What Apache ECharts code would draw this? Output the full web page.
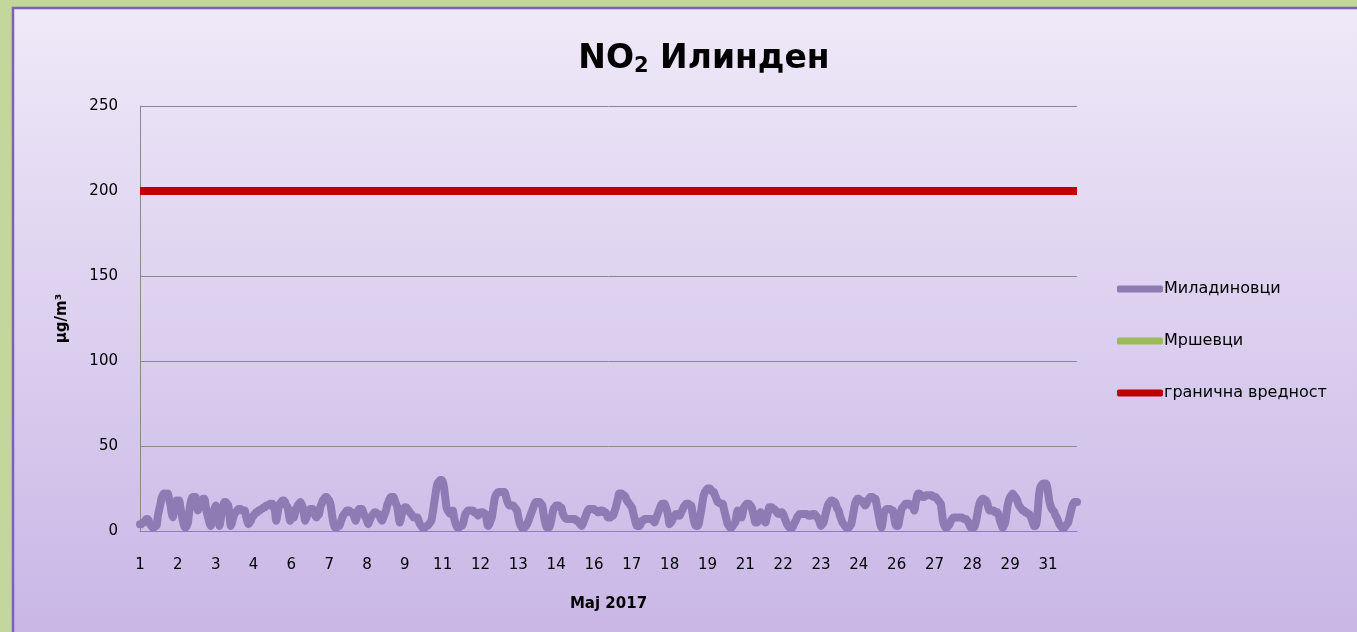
<!DOCTYPE html>
<html><head><meta charset="utf-8">
<script src="https://cdn.jsdelivr.net/npm/echarts@6/dist/echarts.min.js"></script>
<style>html,body{margin:0;padding:0;background:#c3d69b;overflow:hidden}#c{width:1357px;height:632px}</style>
</head><body><div id="c"></div>
<script>
// Days of May 2017 (hourly data, 24 values per day)
const days = [1,2,3,4,5,6,7,8,9,10,11,12,13,14,15,16,17,18,19,20,21,22,23,24,25,26,27,28,29,30,31];
const hoursPerDay = 24;
const seriesNames = ['Миладиновци', 'Мршевци', 'гранична вредност'];
const limitValue = 200;
const yMin = 0, yMax = 250, yStep = 50;

// Миладиновци, hourly NO2 (µg/m³)
const miladinovci = [
 4,4,5,5,6,7,7,6,4,3,2,2,3,3,8,12,15,19,21,22,22,21,22,19,
 16,11,8,13,17,18,18,18,14,10,6,3,2,3,5,11,16,19,20,20,20,16,12,14,
 17,18,19,19,15,11,8,5,3,6,10,13,15,12,8,3,7,12,15,17,17,16,15,9,
 3,5,8,10,11,12,13,13,13,12,12,12,9,6,4,5,6,8,9,10,11,11,12,12,
 13,13,14,14,15,15,15,16,16,16,14,12,6,10,14,16,17,18,18,17,15,14,10,6,
 12,10,8,11,13,15,16,17,16,14,10,6,8,10,12,13,13,13,11,9,8,9,10,14,
 16,18,19,20,20,19,18,16,11,6,3,2,2,3,3,5,7,9,10,11,12,12,12,11,
 11,10,8,6,9,12,13,13,13,11,9,8,6,4,6,8,9,10,11,11,10,10,9,7,
 6,8,10,12,15,17,19,20,20,20,18,16,14,9,5,8,11,13,14,14,13,12,11,10,
 9,8,8,8,8,6,4,3,2,2,2,3,3,4,5,6,10,15,20,25,28,29,30,30,
 29,26,20,14,12,11,10,11,12,8,5,3,2,2,3,3,4,7,10,11,12,12,12,12,
 12,11,11,10,9,10,11,11,11,10,10,6,3,4,6,8,13,18,21,22,23,23,23,23,
 23,23,21,18,16,15,15,15,15,14,13,12,8,5,3,2,2,2,3,4,6,8,10,12,
 14,16,17,17,17,17,16,15,10,6,3,2,2,3,6,10,13,14,15,15,15,14,14,11,
 9,8,7,7,7,7,7,7,7,7,6,6,5,4,3,4,6,8,10,12,13,13,13,13,
 13,12,12,11,11,12,12,12,11,11,10,8,8,8,9,9,11,13,16,19,22,22,22,21,
 21,20,18,17,16,15,14,11,8,5,3,3,3,4,6,6,7,7,7,7,7,7,7,6,
 5,7,9,11,13,15,16,16,16,14,12,8,4,5,6,8,9,10,10,9,9,11,12,14,
 15,16,16,16,15,15,11,7,4,3,3,4,8,12,17,21,23,24,25,25,25,24,23,23,
 21,19,17,17,16,16,16,13,10,7,4,3,2,2,3,4,5,9,12,11,9,8,11,14,
 15,16,16,16,15,14,11,8,5,5,6,9,11,10,8,6,5,8,11,14,14,14,13,13,
 12,11,10,10,11,11,10,8,6,4,3,2,2,2,3,5,6,8,9,10,10,10,10,10,
 10,10,9,9,9,10,10,10,9,8,7,5,3,4,5,8,11,14,16,17,18,18,17,17,
 15,13,12,9,7,5,4,3,2,2,2,3,4,8,12,16,18,19,19,18,18,17,16,15,
 16,18,19,20,20,20,19,19,16,12,8,4,2,6,11,12,13,13,13,13,12,12,8,4,
 3,3,6,10,13,14,15,16,16,16,16,15,15,14,12,16,20,22,22,21,20,20,20,21,
 21,21,21,21,21,20,20,20,19,18,17,16,10,5,3,2,2,3,4,6,7,8,8,8,
 8,8,8,8,8,7,7,7,6,5,3,2,2,2,3,6,10,14,17,18,19,19,18,18,
 16,13,12,12,12,12,11,11,11,9,6,4,2,3,5,10,15,18,20,21,22,21,20,19,
 17,15,14,13,12,12,11,11,10,10,9,7,5,3,3,5,13,22,26,27,28,28,28,27,
 23,18,15,13,12,11,9,8,6,4,3,2,2,2,3,4,5,8,11,14,16,17,17,17
];
// Мршевци: no values shown in the picture
const mrsevci = [];

const categories = [];
days.forEach(d => { for (let h = 0; h < hoursPerDay; h++) categories.push(d + '|' + h); });

const FONT = '"Comic Sans MS","DejaVu Sans",sans-serif';
const chart = echarts.init(document.getElementById('c'), null, {renderer: 'canvas'});
chart.setOption({
  animation: false,
  backgroundColor: '#c3d69b',
  graphic: [{
    type: 'rect', z: -10, silent: true,
    shape: {x: 13, y: 8, width: 1400, height: 700},
    style: {
      fill: new echarts.graphic.LinearGradient(0, 0, 0, 1, [
        {offset: 0, color: '#efe9f8'},
        {offset: 0.9, color: '#c9b6e6'},
        {offset: 1, color: '#c6b2e4'}
      ]),
      stroke: '#7e62b6', lineWidth: 2.5
    }
  }],
  title: {
    text: '{a|NO}{b|2}{a| Илинден}',
    left: 699, top: 36, textAlign: 'center',
    textStyle: {
      rich: {
        a: {fontFamily: FONT, fontSize: 33, fontWeight: 'bold', color: '#000'},
        b: {fontFamily: FONT, fontSize: 21, fontWeight: 'bold', color: '#000', verticalAlign: 'bottom', padding: [15, 0, 0, 0]}
      }
    }
  },
  legend: {
    orient: 'vertical', left: 1117, top: 281, padding: 0,
    itemWidth: 46, itemHeight: 7, itemGap: 36,
    icon: 'roundRect',
    textStyle: {fontFamily: FONT, fontSize: 16, color: '#000', padding: [0, 0, 0, -4]},
    data: seriesNames
  },
  grid: {left: 140, right: 280, top: 106, bottom: 101, containLabel: false},
  xAxis: {
    type: 'category', data: categories, boundaryGap: false,
    name: 'Maj 2017', nameLocation: 'middle', nameGap: 66,
    nameTextStyle: {fontFamily: FONT, fontSize: 15, fontWeight: 'bold', color: '#000'},
    axisLine: {lineStyle: {color: '#8a8a8a', width: 1}},
    axisTick: {show: false},
    axisLabel: {interval: 29, margin: 27, fontFamily: FONT, fontSize: 15, color: '#000',
      formatter: v => v.split('|')[0]},
    splitLine: {show: false}
  },
  yAxis: {
    type: 'value', min: yMin, max: yMax, interval: yStep,
    name: 'µg/m³', nameLocation: 'middle', nameGap: 70, nameRotate: 90,
    nameTextStyle: {fontFamily: FONT, fontSize: 15, fontWeight: 'bold', color: '#000'},
    axisLine: {show: true, lineStyle: {color: '#8a8a8a', width: 1}},
    axisTick: {show: false},
    axisLabel: {margin: 22, fontFamily: FONT, fontSize: 15, color: '#000'},
    splitLine: {lineStyle: {color: '#8a8a8a', width: 1}}
  },
  series: [
    {name: seriesNames[0], type: 'line', data: miladinovci, color: '#8f7bb4',
     showSymbol: false, smooth: 0.25,
     lineStyle: {width: 8, color: '#8f7bb4', cap: 'round', join: 'round'}},
    {name: seriesNames[1], type: 'line', data: mrsevci, color: '#9bbb59',
     showSymbol: false, lineStyle: {width: 6, color: '#9bbb59'}},
    {name: seriesNames[2], type: 'line', data: [], color: '#c00000',
     showSymbol: false, lineStyle: {width: 8, color: '#c00000'},
     markLine: {silent: true, symbol: 'none', label: {show: false},
       lineStyle: {color: '#c00000', width: 8, type: 'solid'},
       data: [{yAxis: limitValue}]}}
  ]
});
</script>
</body></html>
